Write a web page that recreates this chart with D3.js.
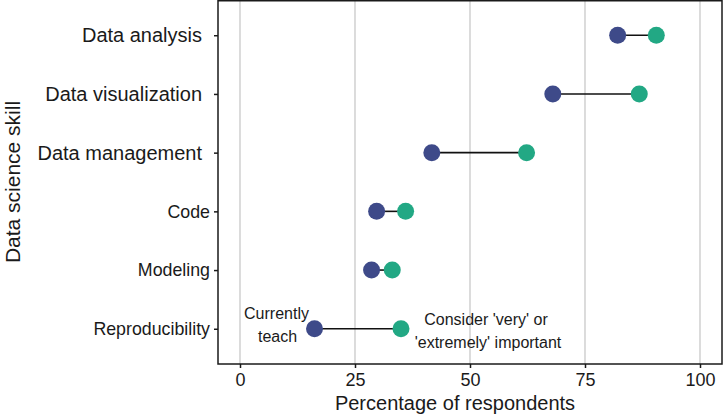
<!DOCTYPE html>
<html>
<head>
<meta charset="utf-8">
<script src="https://cdn.jsdelivr.net/npm/d3@7"></script>
<style>
  html, body { margin: 0; padding: 0; background: #fff; }
  svg { display: block; }
  text { font-family: "Liberation Sans", Arial, sans-serif; fill: #1a1a1a; }
</style>
</head>
<body>
<svg id="chart" width="723" height="414"></svg>
<script>
const skills = ["Data analysis", "Data visualization", "Data management", "Code", "Modeling", "Reproducibility"];
const currentlyTeach = [82.1, 68.0, 41.7, 29.7, 28.6, 16.2];
const considerImportant = [90.5, 86.8, 62.3, 36.0, 33.1, 35.0];
const xTicks = [0, 25, 50, 75, 100];

const W = 723, H = 414;
const panel = { left: 218, right: 722, top: 0, bottom: 364 };
const navy = "#3E4A89", green = "#22A884";

const svg = d3.select("#chart");

const x = d3.scaleLinear().domain([0, 100]).range([240, 700]);
const y = d3.scalePoint().domain(skills).range([panel.top, panel.bottom]).padding(0.6);

// gridlines
svg.append("g").selectAll("line").data(xTicks).join("line")
  .attr("x1", d => x(d)).attr("x2", d => x(d))
  .attr("y1", panel.top).attr("y2", panel.bottom)
  .attr("stroke", "#d3d3d3").attr("stroke-width", 1.6);

// panel border
svg.append("rect")
  .attr("x", panel.left).attr("y", panel.top + 0.75)
  .attr("width", panel.right - panel.left).attr("height", panel.bottom - panel.top - 0.75)
  .attr("fill", "none").attr("stroke", "#1a1a1a").attr("stroke-width", 1.5);

// x axis
const xAxis = svg.append("g").attr("transform", `translate(0,${panel.bottom})`)
  .call(d3.axisBottom(x).tickValues(xTicks).tickSize(4).tickPadding(5));
xAxis.select(".domain").remove();
xAxis.selectAll(".tick line").attr("stroke", "#1a1a1a").attr("stroke-width", 1.5);
xAxis.selectAll(".tick text").attr("font-size", 18).attr("fill", "#1a1a1a")
  .style("font-family", '"Liberation Sans", Arial, sans-serif');

// y axis
const yAxis = svg.append("g").attr("transform", `translate(${panel.left},0)`)
  .call(d3.axisLeft(y).tickSize(4).tickPadding(4));
yAxis.select(".domain").remove();
yAxis.selectAll(".tick line").attr("stroke", "#1a1a1a").attr("stroke-width", 1.5);
yAxis.selectAll(".tick text")
  .attr("font-size", (d, i) => i < 3 ? 20 : 17.8)
  .attr("dx", (d, i) => i < 3 ? -8 : 0)
  .attr("fill", "#1a1a1a")
  .style("font-family", '"Liberation Sans", Arial, sans-serif');

// dumbbells
const rows = skills.map((s, i) => ({ s, a: currentlyTeach[i], b: considerImportant[i] }));
svg.append("g").selectAll("line").data(rows).join("line")
  .attr("x1", d => x(d.a)).attr("x2", d => x(d.b))
  .attr("y1", d => y(d.s)).attr("y2", d => y(d.s))
  .attr("stroke", "#111").attr("stroke-width", 1.6);
svg.append("g").selectAll("circle").data(rows).join("circle")
  .attr("cx", d => x(d.a)).attr("cy", d => y(d.s)).attr("r", 8.5).attr("fill", navy);
svg.append("g").selectAll("circle").data(rows).join("circle")
  .attr("cx", d => x(d.b)).attr("cy", d => y(d.s)).attr("r", 8.5).attr("fill", green);

// annotations
const last = rows[rows.length - 1];
const ann = svg.append("g").attr("font-size", 16).attr("text-anchor", "middle");
ann.append("text").attr("x", x(last.a) - 38).attr("y", y(last.s) - 10).text("Currently");
ann.append("text").attr("x", x(last.a) - 37).attr("y", y(last.s) + 13).text("teach");
ann.append("text").attr("x", x(last.b) + 85).attr("y", y(last.s) - 4).text("Consider 'very' or");
ann.append("text").attr("x", x(last.b) + 87).attr("y", y(last.s) + 19).text("'extremely' important");

// axis titles
svg.append("text").attr("x", 455).attr("y", 410).attr("text-anchor", "middle")
  .attr("font-size", 20).text("Percentage of respondents");
svg.append("text").attr("transform", `translate(19.5,${(panel.top + panel.bottom) / 2}) rotate(-90)`)
  .attr("text-anchor", "middle").attr("font-size", 21).text("Data science skill");
</script>
</body>
</html>
